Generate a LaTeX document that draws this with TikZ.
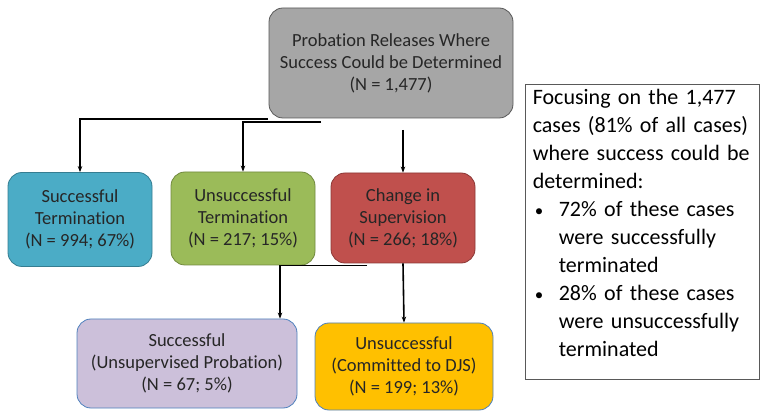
\documentclass[tikz,border=0pt]{standalone}
\usepackage{fontspec}
\setmainfont{Carlito}[Ligatures=NoCommon]
\usetikzlibrary{arrows.meta}
\definecolor{txt}{HTML}{262626}
\definecolor{grayfill}{HTML}{A6A6A6}
\definecolor{grayline}{HTML}{595959}
\definecolor{bluefill}{HTML}{4BACC6}
\definecolor{blueline}{HTML}{357D91}
\definecolor{greenfill}{HTML}{9BBB59}
\definecolor{greenline}{HTML}{71893F}
\definecolor{redfill}{HTML}{C0504D}
\definecolor{redline}{HTML}{8C3836}
\definecolor{purplefill}{HTML}{CCC0DA}
\definecolor{orangefill}{HTML}{FFC000}
\definecolor{thinblue}{HTML}{4F81BD}
\newcommand{\mybullet}{\makebox[26pt][l]{\hspace{2pt}{\fontsize{17}{28}\selectfont •}}}
\tikzset{
  box/.style={draw, rounded corners=14pt, align=center, text=txt, line width=0.8pt,
    font=\fontsize{18.5}{22}\selectfont, inner sep=0pt},
  conn/.style={line width=1.6pt, -{Stealth[length=6pt,width=4.5pt]}},
}
\begin{document}
\begin{tikzpicture}[x=1pt,y=-1pt]
\useasboundingbox (0,0) rectangle (760,411);
\node[box, fill=grayfill, draw=grayline, minimum width=244pt, minimum height=110pt] (top) at (391,63)
  {Probation Releases Where\\Success Could be Determined\\(N = 1,477)};
\node[box, fill=bluefill, draw=blueline, minimum width=144pt, minimum height=94pt] (succ) at (80,219.5)
  {Successful\\Termination\\(N = 994; 67\%)};
\node[box, fill=greenfill, draw=greenline, minimum width=144pt, minimum height=93pt] (unsucc) at (243,218.5)
  {Unsuccessful\\Termination\\(N = 217; 15\%)};
\node[box, fill=redfill, draw=redline, minimum width=144pt, minimum height=90pt] (change) at (403,218)
  {Change in\\Supervision\\(N = 266; 18\%)};
\node[box, fill=purplefill, draw=thinblue, minimum width=220pt, minimum height=89pt] (unsup) at (187,363.5)
  {Successful\\(Unsupervised Probation)\\(N = 67; 5\%)};
\node[box, fill=orangefill, draw=thinblue, minimum width=178pt, minimum height=87pt] (djs) at (404,366.5)
  {Unsuccessful\\(Committed to DJS)\\(N = 199; 13\%)};
\node[draw=grayline, line width=0.8pt, minimum width=234pt, minimum height=295pt, inner sep=0pt] (note) at (642,231.5) {};
\node[anchor=north west, inner sep=0pt, text width=222pt, align=left, text=black,
  font=\fontsize{22}{28}\selectfont] (notetext) at ([xshift=8pt,yshift=-5pt]note.north west)
  {Focusing on the 1,477\newline cases (81\% of all cases)\newline where success could be\newline determined:\par
   \hangindent=26pt\hangafter=1\noindent\mybullet 72\% of these cases\newline were successfully\newline terminated\par
   \hangindent=26pt\hangafter=1\noindent\mybullet 28\% of these cases\newline were unsuccessfully\newline terminated\par};
% connectors
\coordinate (a1) at (268,119);
\coordinate (a2) at (321,122);
\coordinate (a3) at (403,130);
\draw[conn] (a1) -| (succ.north);
\draw[conn] (a2) -| (unsucc.north);
\draw[conn] (a3) -- (change.north);
\coordinate (b1) at (367,265.5);
\coordinate (b2) at (280,0);
\draw[conn] (b1) -| (unsup.north -| b2);
\draw[conn] (change.south) -- (djs.north);
\end{tikzpicture}
\end{document}
